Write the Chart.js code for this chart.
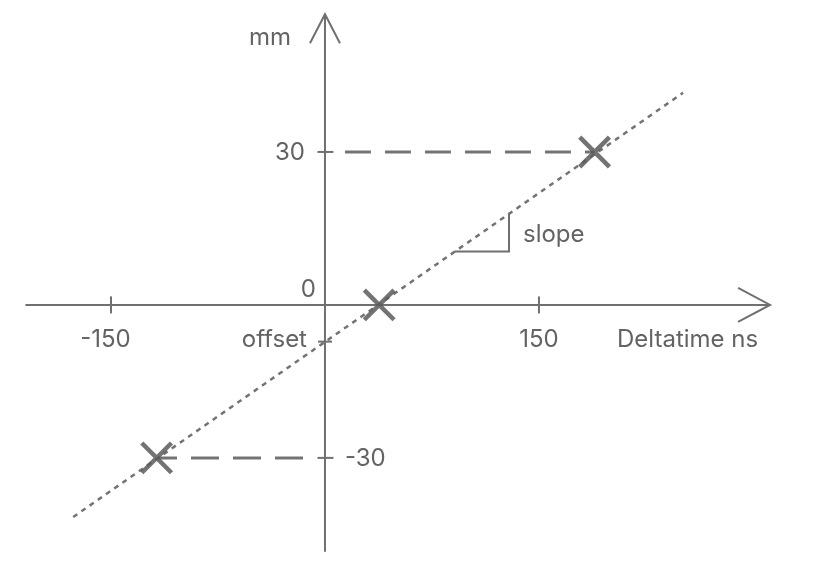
<!DOCTYPE html>
<html>
<head>
<meta charset="utf-8">
<script src="https://cdn.jsdelivr.net/npm/chart.js@4/dist/chart.umd.min.js"></script>
<style>
  html, body { margin: 0; padding: 0; background: #ffffff; }
  #wrap { width: 816px; height: 567px; }
</style>
</head>
<body>
<div id="wrap"><canvas id="c" width="816" height="567"></canvas></div>
<script>
// ---- data ----
const xTickValues = [-150, 150];
const xTickLabels = ['-150', '150'];
const yTickValues = [30, -30];
const yTickLabels = ['30', '-30'];
const originLabel = '0';
const xTitle = 'Deltatime ns';
const yTitle = 'mm';
const pointX = [-118, 38, 189];
const pointY = [-30, 0, 30];
const fitX = [-176.5, 251];
const fitY = [-41.6, 41.6];
const offsetValue = -7.2;
const offsetLabel = 'offset';
const slopeX = [91, 129, 129];
const slopeY = [10.5, 10.5, 17.8];
const slopeLabel = 'slope';
const guideLowX = [-15.4, -118];
const guideLowY = [-30, -30];
const guideHighX = [14, 189];
const guideHighY = [30, 30];
const axisXExtent = [-210, 312];
const axisYExtent = [-48.4, 57];

const zip = (xs, ys) => xs.map((x, i) => ({ x, y: ys[i] }));

const LINE = '#707070';
const TEXT = '#636363';
const FONT = '24px Inter, "Noto Sans", sans-serif';

const axesPlugin = {
  id: 'axesPlugin',
  beforeDatasetsDraw(chart) {
    const ctx = chart.ctx;
    const xs = chart.scales.x, ys = chart.scales.y;
    const ox = xs.getPixelForValue(0), oy = ys.getPixelForValue(0);
    ctx.save();
    ctx.strokeStyle = LINE;
    ctx.lineWidth = 2;
    ctx.lineCap = 'butt';
    // x axis
    const xl = xs.getPixelForValue(axisXExtent[0]), xr = xs.getPixelForValue(axisXExtent[1]);
    ctx.beginPath(); ctx.moveTo(xl, oy); ctx.lineTo(xr, oy); ctx.stroke();
    ctx.beginPath(); ctx.moveTo(xr - 32, oy - 17); ctx.lineTo(xr, oy); ctx.lineTo(xr - 32, oy + 17); ctx.stroke();
    // y axis
    const yb = ys.getPixelForValue(axisYExtent[0]), yt = ys.getPixelForValue(axisYExtent[1]);
    ctx.beginPath(); ctx.moveTo(ox, yb); ctx.lineTo(ox, yt); ctx.stroke();
    ctx.beginPath(); ctx.moveTo(ox - 15, yt + 29); ctx.lineTo(ox, yt); ctx.lineTo(ox + 15, yt + 29); ctx.stroke();
    // x ticks
    xTickValues.forEach(v => {
      const px = xs.getPixelForValue(v);
      ctx.beginPath(); ctx.moveTo(px, oy - 8.5); ctx.lineTo(px, oy + 8.5); ctx.stroke();
    });
    // y ticks
    yTickValues.forEach(v => {
      const py = ys.getPixelForValue(v);
      ctx.beginPath(); ctx.moveTo(ox - 7.5, py); ctx.lineTo(ox + 8.5, py); ctx.stroke();
    });
    // offset tick
    const po = ys.getPixelForValue(offsetValue);
    ctx.beginPath(); ctx.moveTo(ox - 7, po); ctx.lineTo(ox + 7, po); ctx.stroke();

    // texts
    ctx.fillStyle = TEXT;
    ctx.font = FONT;
    ctx.textBaseline = 'middle';
    xTickLabels.forEach((lab, i) => {
      const px = xs.getPixelForValue(xTickValues[i]);
      const core = lab.replace('-', '');
      const w = ctx.measureText(core).width;
      ctx.textAlign = 'right';
      ctx.fillText(lab, px + w / 2, oy + 35);
    });
    yTickLabels.forEach((lab, i) => {
      const v = yTickValues[i];
      const py = ys.getPixelForValue(v);
      if (v > 0) { ctx.textAlign = 'right'; ctx.fillText(lab, ox - 20, py + 1); }
      else { ctx.textAlign = 'left'; ctx.fillText(lab, ox + 20, py + 1); }
    });
    ctx.textAlign = 'right';
    ctx.fillText(originLabel, ox - 9, oy - 15);
    ctx.fillText(offsetLabel, ox - 18, oy + 35);
    ctx.fillText(yTitle, ox - 34, yt + 24);
    ctx.textAlign = 'left';
    ctx.fillText(xTitle, xs.getPixelForValue(150) + 78, oy + 35);
    ctx.fillText(slopeLabel, xs.getPixelForValue(slopeX[2]) + 14, ys.getPixelForValue((slopeY[0] + slopeY[2]) / 2) + 2);
    ctx.restore();
  }
};

new Chart(document.getElementById('c'), {
  type: 'scatter',
  data: {
    datasets: [
      {
        data: zip(pointX, pointY),
        pointStyle: 'crossRot',
        pointRadius: 21,
        pointBorderWidth: 4.5,
        borderColor: 'rgba(90,90,90,0.85)',
        backgroundColor: 'rgba(90,90,90,0.85)',
        showLine: false,
        order: 1
      },
      {
        data: zip(fitX, fitY),
        showLine: true,
        borderColor: 'rgba(100,100,100,0.9)',
        borderWidth: 2.5,
        borderDash: [5, 5],
        pointRadius: 0,
        order: 2
      },
      {
        data: zip(guideLowX, guideLowY),
        showLine: true,
        borderColor: 'rgba(100,100,100,0.9)',
        borderWidth: 3,
        borderDash: [28, 14],
        pointRadius: 0,
        order: 3
      },
      {
        data: zip(guideHighX, guideHighY),
        showLine: true,
        borderColor: 'rgba(100,100,100,0.9)',
        borderWidth: 3,
        borderDash: [26, 14],
        pointRadius: 0,
        order: 3
      },
      {
        data: zip(slopeX, slopeY),
        showLine: true,
        borderColor: LINE,
        borderWidth: 2,
        pointRadius: 0,
        order: 3
      }
    ]
  },
  options: {
    responsive: false,
    animation: false,
    layout: { padding: 0, autoPadding: false },
    plugins: { legend: { display: false }, tooltip: { enabled: false } },
    scales: {
      x: { type: 'linear', min: -227.8, max: 344.2, display: false },
      y: { type: 'linear', min: -51.4, max: 59.8, display: false }
    }
  },
  plugins: [axesPlugin]
});
</script>
</body>
</html>
